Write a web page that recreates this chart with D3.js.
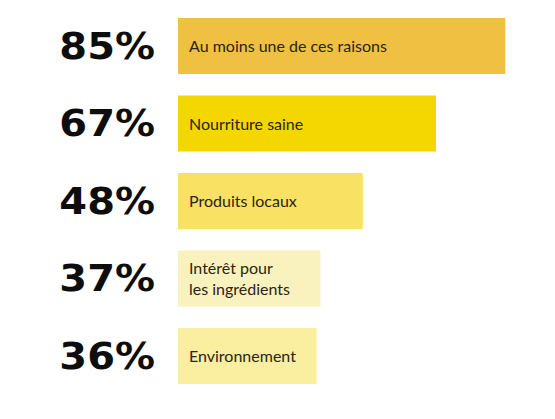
<!DOCTYPE html>
<html lang="fr">
<head>
<meta charset="UTF-8">
<title>Raisons</title>
<script src="https://d3js.org/d3.v7.min.js"></script>
<style>
  body { margin: 0; background: #fff; }
  svg { display: block; }
</style>
</head>
<body>
<svg width="555" height="419"></svg>
<script>
// chart values
const categories = ['Au moins une de ces raisons', 'Nourriture saine', 'Produits locaux', 'Intérêt pour\nles ingrédients', 'Environnement'];
const values = [85, 67, 48, 37, 36];
const barColors = ['#efc042', '#f5d700', '#f9e164', '#faf2be', '#faeea0'];

const svg = d3.select('svg');

const x = d3.scaleLinear().domain([0, 100]).range([178, 563]);
const y = d3.scaleBand()
    .domain(categories)
    .range([7.25, 394.75])
    .paddingInner(0.277)
    .paddingOuter(0.1385);

const rows = svg.selectAll('g.row')
    .data(categories)
    .enter()
    .append('g')
    .attr('class', 'row');

rows.append('rect')
    .attr('x', x(0))
    .attr('y', d => y(d))
    .attr('width', (d, i) => x(values[i]) - x(0))
    .attr('height', y.bandwidth())
    .style('fill', (d, i) => barColors[i]);

// big percentages, slightly widened to get the geometric look
rows.append('g')
    .attr('transform', d => `translate(155,${y(d) + y.bandwidth() / 2 + 12.5}) scale(1.08,1)`)
    .append('text')
    .attr('text-anchor', 'end')
    .style('font-family', '"DejaVu Sans", sans-serif')
    .style('font-weight', 'bold')
    .style('font-size', '37px')
    .style('fill', '#0d0d0d')
    .text((d, i) => values[i] + '%');

// labels inside bars
rows.each((d, i, nodes) => {
    const lines = d.split('\n');
    const cy = y(d) + y.bandwidth() / 2;
    const t = d3.select(nodes[i])
        .append('text')
        .style('font-family', 'Lato, sans-serif')
        .style('font-size', '16px')
        .style('fill', '#2a2414');
    lines.forEach((line, k) => {
        t.append('tspan')
            .attr('x', x(0) + 11)
            .attr('y', cy + 6 + (k - (lines.length - 1) / 2) * 21)
            .text(line);
    });
});
</script>
</body>
</html>
